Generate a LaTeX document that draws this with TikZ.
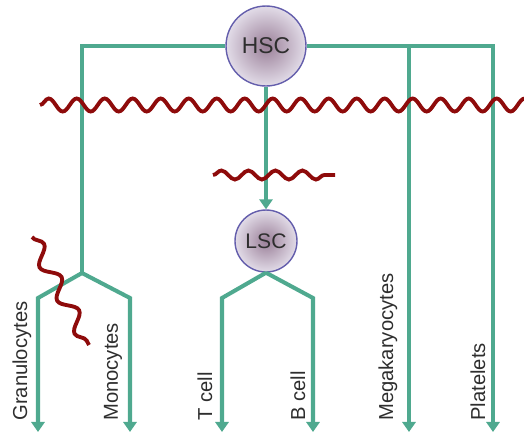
\documentclass[tikz,border=0pt]{standalone}
\usepackage{fontspec}
\setmainfont{Liberation Sans}
\usetikzlibrary{arrows.meta, decorations.pathmorphing}
\definecolor{lnGreen}{HTML}{4FA98F}
\definecolor{lnRed}{HTML}{8E0B0B}
\definecolor{cellRim}{HTML}{645EAC}
\definecolor{cellIn}{HTML}{9A7F98}
\definecolor{cellOut}{HTML}{E2DCE8}
\definecolor{txtGrey}{HTML}{2E2E2E}
\tikzset{
  lineage/.style={line width=2.3pt, lnGreen, line join=miter},
  lineagearrow/.style={lineage, -{Triangle[length=5.7pt,width=7.5pt]}},
  block/.style={line width=2.2pt, lnRed, decorate,
    decoration={snake, amplitude=1.3mm, segment length=5.6mm}},
  stemcell/.style={circle, draw=cellRim, thick, inner color=cellIn,
    outer color=cellOut, text=txtGrey, inner sep=0pt},
  celllabel/.style={rotate=90, anchor=west, inner sep=0pt,
    font=\fontsize{11.5}{13}\selectfont, text=txtGrey}
}

\begin{document}
\begin{tikzpicture}[x=0.02cm, y=-0.02cm]
  \useasboundingbox (0,0) rectangle (524,434);

  % stem cells
  \node[stemcell, minimum size=1.6cm, font=\fontsize{13}{15}\selectfont] (hsc) at (266,46) {HSC};
  \node[stemcell, minimum size=1.24cm, font=\fontsize{12}{14}\selectfont] (lsc) at (266,241) {LSC};

  % branch points
  \coordinate (myeloL) at (82,46);
  \coordinate (myeloJ) at (82,273);
  \coordinate (granK) at (38,298);
  \coordinate (granE) at (38,432);
  \coordinate (monoK) at (130,298);
  \coordinate (monoE) at (130,432);
  \coordinate (tK) at (222,298);
  \coordinate (tE) at (222,432);
  \coordinate (bK) at (313,298);
  \coordinate (bE) at (313,432);
  \coordinate (megaK) at (409,46);
  \coordinate (megaE) at (409,432);
  \coordinate (platK) at (493,46);
  \coordinate (platE) at (493,432);

  % lineages
  \draw[lineage] (hsc.west) -- (myeloL) -- (myeloJ);
  \draw[lineagearrow] (myeloJ) -- (granK) -- (granE);
  \draw[lineagearrow] (myeloJ) -- (monoK) -- (monoE);
  \draw[lineagearrow] (hsc.east) -- (platK) -- (platE);
  \draw[lineagearrow] (megaK) -- (megaE);
  \draw[lineagearrow] (hsc) -- (lsc);
  \draw[lineagearrow] (lsc.south) -- (tK) -- (tE);
  \draw[lineagearrow] (lsc.south) -- (bK) -- (bE);

  % blocks
  \draw[block] (40,105) -- (540,105);
  \draw[block, decoration={amplitude=0.9mm, segment length=5.4mm}] (213,175) -- (335,175);
  \draw[block, decoration={amplitude=1.5mm, segment length=7.5mm}] (32,237) -- (89,345);

  % labels
  \node[celllabel] (granT) at (22,421) {Granulocytes};
  \node[celllabel] (monoT) at (113,421) {Monocytes};
  \node[celllabel] (tT) at (205,421) {T cell};
  \node[celllabel] (bT) at (298,421) {B cell};
  \node[celllabel] (megaT) at (388,421) {Megakaryocytes};
  \node[celllabel] (platT) at (478,421) {Platelets};
\end{tikzpicture}
\end{document}
